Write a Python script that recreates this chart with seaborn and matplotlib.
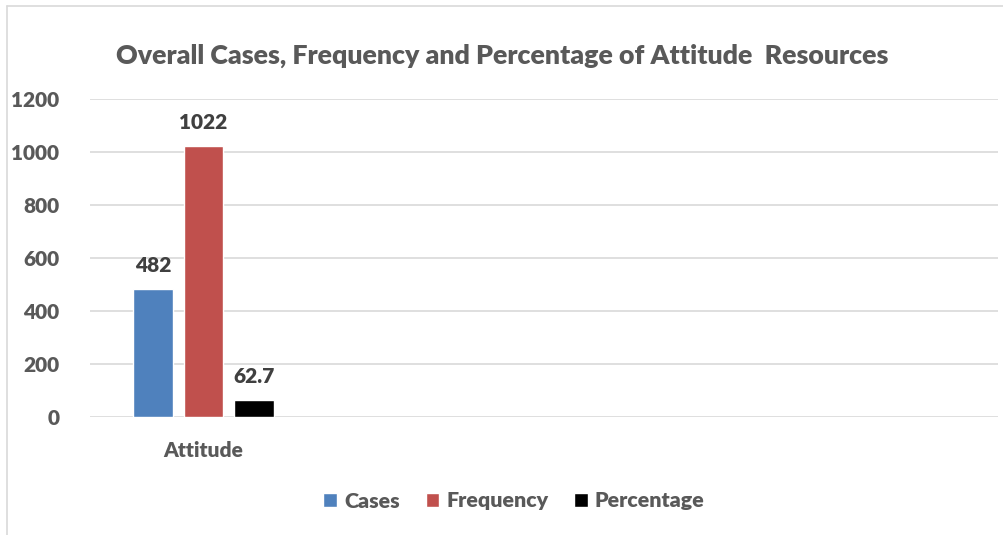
import matplotlib
matplotlib.use("Agg")
import matplotlib.pyplot as plt
from matplotlib.lines import Line2D
import seaborn as sns
import pandas as pd

# Chart data
categories = ["Attitude", " ", "  ", "   "]
series = ["Cases", "Frequency", "Percentage"]
values = [482, 1022, 62.7]
colors = ["#4F81BD", "#C0504D", "#000000"]
y_ticks = [0, 200, 400, 600, 800, 1000, 1200]
title = "Overall Cases, Frequency and Percentage of Attitude  Resources"

df = pd.DataFrame({
    "Category": ["Attitude"] * len(series),
    "Series": series,
    "Value": values,
})

sns.set_theme(style="white")
plt.rcParams["font.family"] = ["Lato", "DejaVu Sans"]
text_color = "#595959"
fs = 15
fw = 800

fig = plt.figure(figsize=(10.04, 5.35), dpi=100)
ax = fig.add_axes([90 / 1004, 1 - 417 / 535, (998 - 90) / 1004, (417 - 99) / 535])

sns.barplot(
    data=df, x="Category", y="Value", hue="Series",
    order=categories, hue_order=series, palette=colors,
    width=0.667, gap=0.21, saturation=1, ax=ax, legend=True,
)

ax.set_ylim(0, 1200)
ax.set_yticks(y_ticks)
ax.set_xlim(-0.5, len(categories) - 0.5)
ax.set_xlabel("")
ax.set_ylabel("")
ax.grid(axis="y", color="#D9D9D9", linewidth=1.2)
ax.set_axisbelow(True)
for s in ax.spines.values():
    s.set_visible(False)
ax.tick_params(axis="y", length=0, pad=22, labelsize=fs, labelcolor=text_color)
ax.tick_params(axis="x", length=0, pad=17, labelsize=fs, labelcolor=text_color)
for lbl in ax.get_yticklabels() + ax.get_xticklabels():
    lbl.set_fontweight(fw)

for container in ax.containers:
    ax.bar_label(container, fmt=lambda v: f"{v:g}", padding=10,
                 fontsize=fs, fontweight=fw, color="#404040")

handles, labels = ax.get_legend_handles_labels()
ax.legend_.remove()
fig.legend(handles, labels, loc="center", bbox_to_anchor=(514 / 1004, 1 - 501 / 535),
           ncol=3, frameon=False, handlelength=0.63, handleheight=0.63,
           handletextpad=0.34, columnspacing=1.2, labelcolor=text_color,
           prop={"weight": fw, "size": 15.4})

fig.text(502 / 1004, 1 - 56 / 535, title, ha="center", va="center",
         fontsize=19.3, fontweight=fw, color=text_color)

# Chart frame edges
fig.add_artist(Line2D([7 / 1004, 7 / 1004], [0, 1 - 6 / 535], transform=fig.transFigure,
                      color="#D9D9D9", linewidth=1.2))
fig.add_artist(Line2D([7 / 1004, 1], [1 - 6 / 535, 1 - 6 / 535], transform=fig.transFigure,
                      color="#D9D9D9", linewidth=1.2))

fig.savefig("out.png", dpi=100, facecolor="white")
